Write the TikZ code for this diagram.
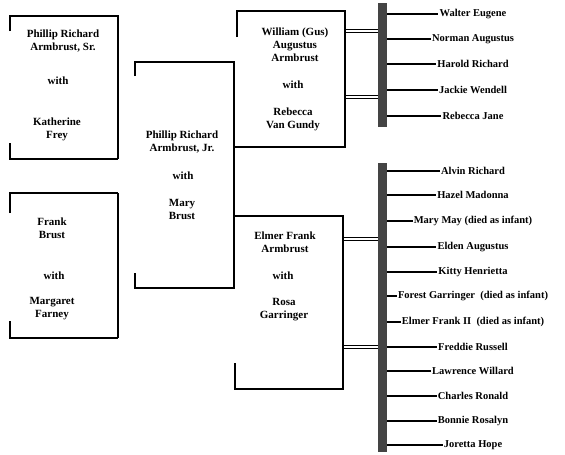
\documentclass[tikz,border=0pt]{standalone}
\usepackage{fontspec}
\setmainfont{Liberation Serif}
\usetikzlibrary{positioning,calc}
\definecolor{barGray}{RGB}{68,68,68}
\tikzset{
  slot/.style={inner sep=0pt,outer sep=0pt},
  thinline/.style={draw=black,line width=1.3pt},
  thickline/.style={draw=black,line width=2.3pt},
  who/.style={align=center,inner sep=0pt,font=\bfseries\fontsize{11}{13}\selectfont},
  kid/.style={inner sep=1pt,font=\bfseries\fontsize{10.5}{12}\selectfont},
  bar/.style={fill=barGray,minimum width=9pt,inner sep=0pt,outer sep=0pt},
  twin/.style={double,draw=black,line width=1pt,double distance=2pt},
  branch/.style={draw=black,line width=1.2pt}
}

\begin{document}
\begin{tikzpicture}[x=1pt,y=-1pt]
\useasboundingbox (0,0) rectangle (565,455);
% couple boxes (only their outlines are drawn)
\node[slot,minimum width=108pt,minimum height=143pt] (sr) at (64,87.5) {};
\node[slot,minimum width=108pt,minimum height=145pt] (fb) at (64,265.5) {};
\node[slot,minimum width=99pt,minimum height=226pt] (jr) at (184.5,175) {};
\node[slot,minimum width=108pt,minimum height=136pt] (gus) at (291,79) {};
\node[slot,minimum width=108pt,minimum height=173pt] (elmer) at (289,302.5) {};
% children bars
\node[bar,minimum height=124pt] (topbar) at (382.5,65) {};
\node[bar,minimum height=289pt] (botbar) at (382.5,307.5) {};
\coordinate (t1) at (378,31);
\coordinate (t2) at (378,97);
\coordinate (t3) at (378,239);
\coordinate (t4) at (378,347);
\foreach \t in {t1,t2} \draw[twin] (gus.east |- \t) -- (\t);
\foreach \t in {t3,t4} \draw[twin] (elmer.east |- \t) -- (\t);
% outlines
\draw[thinline] ([yshift=-15pt]sr.north west) -- (sr.north west) -- (sr.north east) -- (sr.south east);
\draw[thickline] ([yshift=16pt]sr.south west) -- (sr.south west) -- (sr.south east);
\draw[thickline] ([yshift=-20pt]fb.north west) -- (fb.north west) -- (fb.north east);
\draw[thinline] (fb.north east) -- (fb.south east);
\draw[thickline] ([yshift=17pt]fb.south west) -- (fb.south west) -- (fb.south east);
\draw[thinline] ([yshift=-14pt]jr.north west) -- (jr.north west) -- (jr.north east) -- (jr.south east) -- (jr.south west) -- ([yshift=15pt]jr.south west);
\draw[thickline] ([yshift=-26pt]gus.north west) -- (gus.north west) -- (gus.north east) -- (gus.south east) -- (jr.east |- gus.south);
\draw[thickline] (jr.east |- elmer.north) -- (elmer.north east) -- (elmer.south east) -- (elmer.south west) -- ([yshift=26pt]elmer.south west);
% names
\node[who] (srh) at (63,41) {Phillip Richard\\Armbrust, Sr.};
\node[who] (srw) at (58,81) {with};
\node[who] (srk) at (57,129) {Katherine\\Frey};
\node[who] (fbh) at (52,228.5) {Frank\\Brust};
\node[who] (fbw) at (54,276) {with};
\node[who] (fbk) at (52,309) {Margaret\\Farney};
\node[who] (jrh) at (182,142.5) {Phillip Richard\\Armbrust, Jr.};
\node[who] (jrw) at (183,176) {with};
\node[who] (jrk) at (182,209.5) {Mary\\Brust};
\node[who] (gush) at (295,44.5) {William (Gus)\\Augustus\\Armbrust};
\node[who] (gusw) at (293,85) {with};
\node[who] (gusk) at (293,119) {Rebecca\\Van Gundy};
\node[who] (elh) at (285,242.5) {Elmer Frank\\Armbrust};
\node[who] (elw) at (283,276) {with};
\node[who] (elk) at (284,310) {Rosa\\Garringer};
% children
\foreach \i/\y/\lab in {1/14/{Walter Eugene},2/39/{Norman Augustus},3/64/{Harold Richard},4/90/{Jackie Wendell},5/116/{Rebecca Jane}} {
  \node[kid] (a\i) at (473,\y) {\lab};
  \draw[branch] (topbar.east |- a\i) -- (a\i.west);
}
\foreach \i/\y/\lab in {1/171/{Alvin Richard},2/195/{Hazel Madonna},3/221/{Mary May (died as infant)},4/247/{Elden Augustus},5/272/{Kitty Henrietta},6/296/{Forest Garringer\ \ (died as infant)},7/322/{Elmer Frank II\ \ (died as infant)},8/347/{Freddie Russell},9/371/{Lawrence Willard},10/396/{Charles Ronald},11/421/{Bonnie Rosalyn},12/445/{Joretta Hope}} {
  \node[kid] (b\i) at (473,\y) {\lab};
  \draw[branch] (botbar.east |- b\i) -- (b\i.west);
}
\end{tikzpicture}
\end{document}
